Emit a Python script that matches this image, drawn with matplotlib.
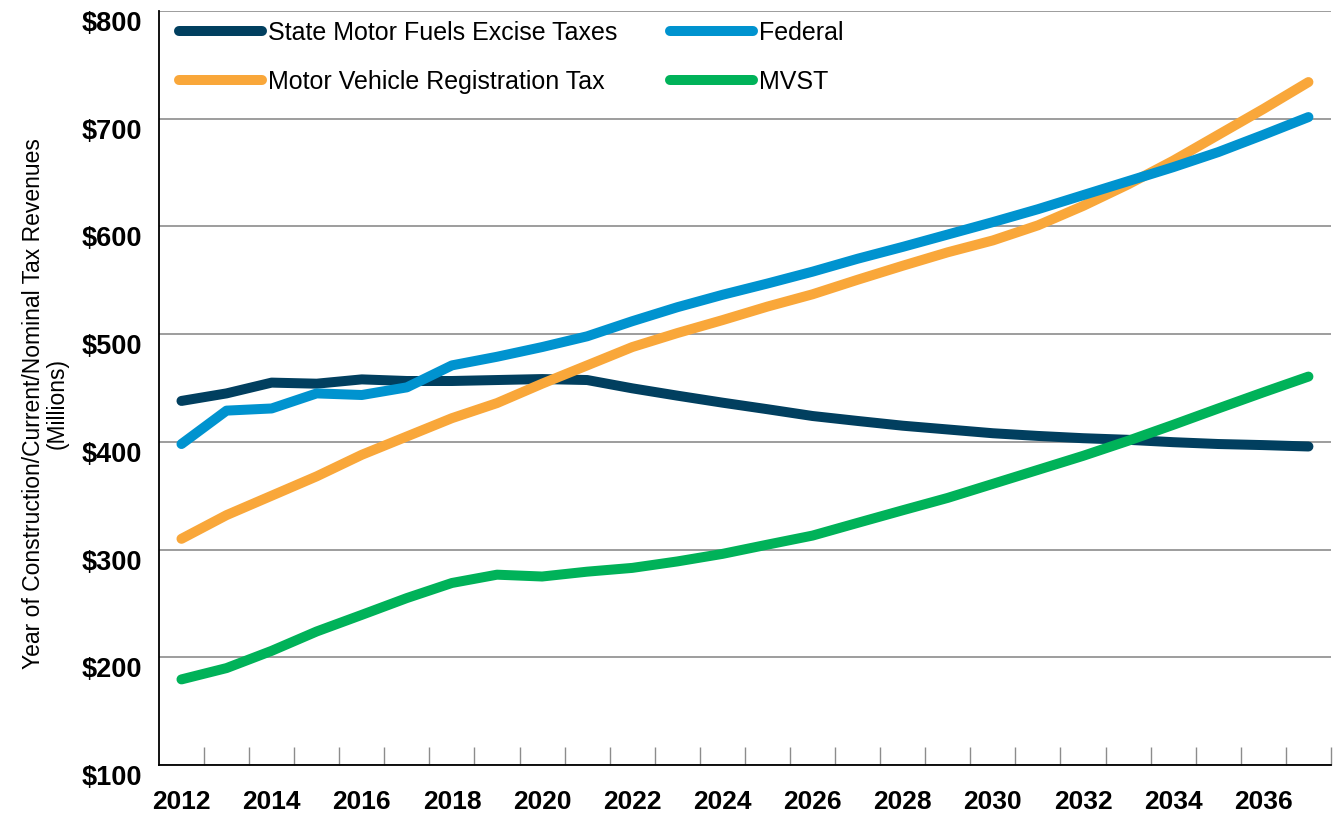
import numpy as np
import matplotlib
matplotlib.use("Agg")
import matplotlib.pyplot as plt
from matplotlib.ticker import FixedLocator, FuncFormatter

plt.rcParams['font.family'] = ['Liberation Sans Narrow', 'Liberation Sans', 'DejaVu Sans']

years = list(range(2012, 2038))

state_fuel = [438, 445, 455, 454, 458, 456.5, 456.5, 457.4, 458.3, 457.4,
              449.7, 442.9, 436.4, 430.3, 424, 419.4, 415, 411.5, 408, 405.5,
              403.4, 401.9, 399.7, 398, 397, 395.7]
federal = [398, 429, 431, 445, 443.5, 450.6, 471, 479, 488, 498,
           512, 525, 536.5, 547, 558, 570, 581, 592.5, 604, 616,
           629, 642, 655, 669, 685, 701.5]
registration = [310, 332, 350, 368, 388, 405, 422, 436, 454, 471,
                488, 501, 513, 525.6, 537, 550.5, 563.5, 576, 587, 601,
                619, 639, 661, 685, 709, 734]
mvst = [179.5, 190, 206, 224, 239.4, 255, 269, 276.7, 275, 279.5,
        283, 289, 296, 304.6, 313, 324.8, 336.5, 348, 361, 374,
        387, 401, 415.8, 431, 446, 460.6]

series = [
    ("State Motor Fuels Excise Taxes", state_fuel, "#013F5F"),
    ("Motor Vehicle Registration Tax", registration, "#F9A73A"),
    ("Federal", federal, "#0093CF"),
    ("MVST", mvst, "#00B259"),
]

fig = plt.figure(figsize=(13.39, 8.19), dpi=100)
ax = fig.add_axes([0.1187, 0.0659, 0.8753, 0.9207])

handles = {}
for name, vals, col in series:
    h, = ax.plot(years, vals, color=col, lw=7.2, solid_capstyle='round',
                 solid_joinstyle='round', label=name, zorder=3)
    handles[name] = h

ax.set_xlim(2011.5, 2037.5)
ax.set_ylim(100, 800)

ax.set_yticks(range(100, 801, 100))
ax.yaxis.set_major_formatter(FuncFormatter(lambda v, p: "${:.0f}".format(v)))
ax.grid(axis='y', color='#8c8c8c', lw=1.2, zorder=1)
ax.tick_params(axis='y', length=0, pad=12, labelsize=19.5)
for lab in ax.get_yticklabels():
    lab.set_fontweight('bold')
    lab.set_verticalalignment('top')

ax.set_xticks(range(2012, 2038, 2))
ax.xaxis.set_minor_locator(FixedLocator(np.arange(2012.5, 2038, 1)))
ax.tick_params(axis='x', which='major', length=0, pad=18, labelsize=19)
ax.tick_params(axis='x', which='minor', direction='in', length=13,
               width=1, color='#8c8c8c')
for lab in ax.get_xticklabels():
    lab.set_fontweight('bold')

for s in ['top', 'right']:
    ax.spines[s].set_visible(False)
for s in ['left', 'bottom']:
    ax.spines[s].set_color('black')
    ax.spines[s].set_linewidth(1.3)

ax.set_ylabel("Year of Construction/Current/Nominal Tax Revenues\n(Millions)",
              fontsize=16.5, linespacing=1.05)
ax.yaxis.set_label_coords(-0.077, 0.48)

order = ["State Motor Fuels Excise Taxes", "Motor Vehicle Registration Tax",
         "Federal", "MVST"]
leg = ax.legend([handles[n] for n in order], order, ncol=2, loc='upper left',
                frameon=False, fontsize=18, handlelength=3.3, handletextpad=0.25,
                columnspacing=2.1, labelspacing=1.0,
                bbox_to_anchor=(0.009, 1.0), borderaxespad=0.0)

fig.savefig("out.png", dpi=100)
